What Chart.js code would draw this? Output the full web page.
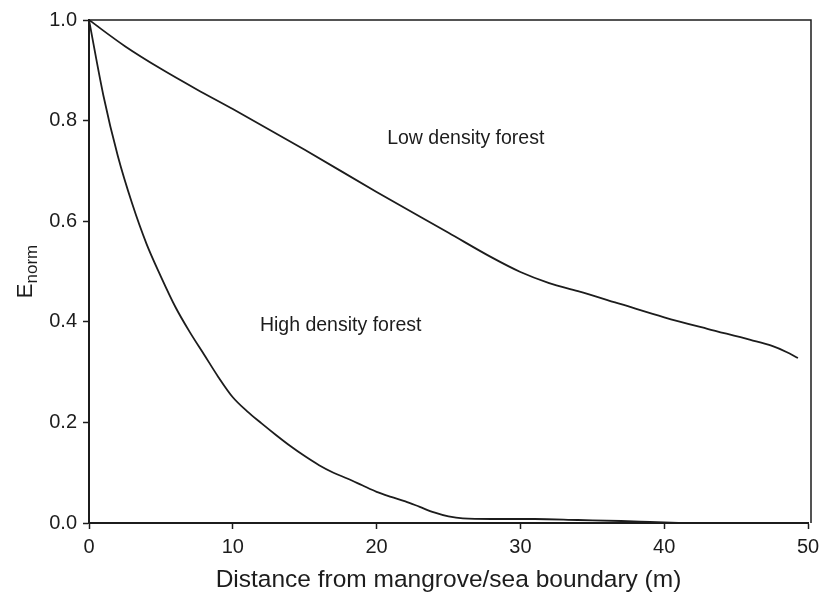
<!DOCTYPE html>
<html>
<head>
<meta charset="utf-8">
<script src="https://cdn.jsdelivr.net/npm/chart.js@4.4.1/dist/chart.umd.min.js"></script>
<style>
  html, body { margin: 0; padding: 0; background: #fff; }
  #wrap { width: 821px; height: 598px; }
</style>
</head>
<body>
<div id="wrap"><canvas id="chart" width="821" height="598"></canvas></div>
<script>
// Distance (m) and normalised energy for each forest type
const lowDist = [0, 2.5, 5, 7.5, 10, 15, 20, 25, 28, 30, 32, 34, 37, 40, 43, 46, 47.5, 48.5, 49.3];
const lowEnorm = [1.0, 0.948, 0.903, 0.862, 0.823, 0.742, 0.658, 0.577, 0.528, 0.499, 0.477, 0.461, 0.435, 0.409, 0.386, 0.364, 0.352, 0.340, 0.328];

const highDist = [0, 1, 2, 3, 4, 5, 6, 7, 8, 9, 10, 11, 12, 13, 14, 15, 16, 17, 18, 19, 20, 21, 22, 23, 24, 25, 26, 28, 31, 34, 37, 39, 41];
const highEnorm = [1.0, 0.85, 0.73, 0.635, 0.555, 0.49, 0.43, 0.38, 0.335, 0.29, 0.25, 0.222, 0.198, 0.175, 0.153, 0.133, 0.115, 0.10, 0.088, 0.075, 0.062, 0.052, 0.043, 0.032, 0.021, 0.013, 0.009, 0.008, 0.008, 0.006, 0.004, 0.002, 0.0];

const xTicks = [0, 10, 20, 30, 40, 50];
const yTicks = [0, 0.2, 0.4, 0.6, 0.8, 1.0];

// curve labels placed in data coordinates
const curveLabels = [
    { text: 'Low density forest', x: 26.2, y: 0.765 },
    { text: 'High density forest', x: 17.5, y: 0.392 }
];

const ink = '#1c1c1c';
const fontFamily = '"Liberation Sans", Arial, sans-serif';

function toPoints(xs, ys) {
    return xs.map((x, i) => ({ x: x, y: ys[i] }));
}

// frame, curve labels and the subscripted y title
const decorations = {
    id: 'decorations',
    afterDraw(chart) {
        const ctx = chart.ctx;
        const area = chart.chartArea;
        const xs = chart.scales.x;
        const ys = chart.scales.y;
        ctx.save();
        ctx.strokeStyle = ink;
        ctx.lineWidth = 1.5;
        ctx.beginPath();
        ctx.moveTo(area.left, area.top);
        ctx.lineTo(area.right + 3, area.top);
        ctx.lineTo(area.right + 3, area.bottom);
        ctx.stroke();

        ctx.fillStyle = ink;
        ctx.font = '19.5px ' + fontFamily;
        ctx.textAlign = 'center';
        ctx.textBaseline = 'middle';
        curveLabels.forEach(l => {
            ctx.fillText(l.text, xs.getPixelForValue(l.x), ys.getPixelForValue(l.y));
        });

        // E with subscript "norm", rotated
        ctx.translate(25, (area.top + area.bottom) / 2);
        ctx.rotate(-Math.PI / 2);
        ctx.textAlign = 'left';
        ctx.textBaseline = 'alphabetic';
        ctx.font = '22px ' + fontFamily;
        const eW = ctx.measureText('E').width;
        ctx.font = '17px ' + fontFamily;
        const nW = ctx.measureText('norm').width;
        const start = -(eW + nW) / 2;
        ctx.font = '22px ' + fontFamily;
        ctx.fillText('E', start, 7);
        ctx.font = '17px ' + fontFamily;
        ctx.fillText('norm', start + eW, 12);
        ctx.restore();
    }
};

const chart = new Chart(document.getElementById('chart').getContext('2d'), {
    type: 'line',
    data: {
        datasets: [
            {
                label: 'Low density forest',
                data: toPoints(lowDist, lowEnorm),
                borderColor: ink,
                borderWidth: 1.8,
                pointRadius: 0,
                cubicInterpolationMode: 'monotone',
                fill: false
            },
            {
                label: 'High density forest',
                data: toPoints(highDist, highEnorm),
                borderColor: ink,
                borderWidth: 1.8,
                pointRadius: 0,
                cubicInterpolationMode: 'monotone',
                fill: false
            }
        ]
    },
    options: {
        responsive: false,
        animation: false,
        layout: { padding: { left: 0, top: 20, right: 13, bottom: 0 } },
        plugins: {
            legend: { display: false },
            tooltip: { enabled: false }
        },
        scales: {
            x: {
                type: 'linear',
                min: 0,
                max: 50,
                afterBuildTicks: s => { s.ticks = xTicks.map(v => ({ value: v })); },
                afterFit: s => {
                    s.height = 75;
                    s.paddingLeft = 0;
                    s.paddingRight = 0;
                },
                grid: { drawOnChartArea: false, tickLength: 6, tickColor: ink, tickWidth: 1.5 },
                border: { color: ink, width: 2 },
                ticks: { color: ink, padding: 6, font: { family: fontFamily, size: 20 } },
                title: {
                    display: true,
                    text: 'Distance from mangrove/sea boundary (m)',
                    color: ink,
                    font: { family: fontFamily, size: 24.5 },
                    padding: { top: 4, bottom: 3 }
                }
            },
            y: {
                type: 'linear',
                min: 0,
                max: 1,
                afterBuildTicks: s => { s.ticks = yTicks.map(v => ({ value: v })); },
                afterFit: s => {
                    s.width = 89;
                    s.paddingTop = 0;
                    s.paddingBottom = 0;
                },
                grid: { drawOnChartArea: false, tickLength: 6, tickColor: ink, tickWidth: 1.5 },
                border: { color: ink, width: 2 },
                ticks: {
                    color: ink,
                    padding: 6,
                    font: { family: fontFamily, size: 20 },
                    callback: v => v.toFixed(1)
                }
            }
        }
    },
    plugins: [decorations]
});
</script>
</body>
</html>
